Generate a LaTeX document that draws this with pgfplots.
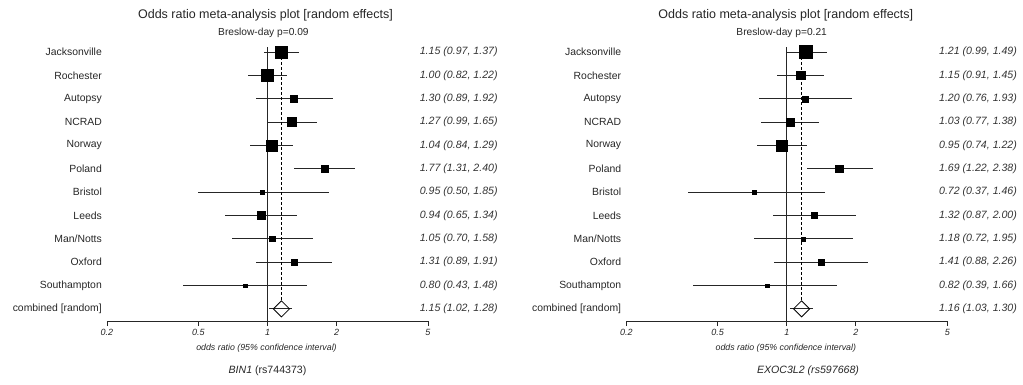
\documentclass[border=0pt]{standalone}
\usepackage{pgfplots}
\pgfplotsset{compat=1.18}
\usepackage{pgfplotstable}
\usepackage{fontspec}
\setmainfont{Liberation Sans}

% row = vertical position (px from top), or / lo / hi = odds ratio and 95% CI, ms = box half size
\pgfplotstableread{
row    or   lo   hi   ms
52.00  1.15 0.97 1.37 6.2
75.35  1.00 0.82 1.22 5.9
98.70  1.30 0.89 1.92 3.5
122.05 1.27 0.99 1.65 4.4
145.40 1.04 0.84 1.29 5.5
168.75 1.77 1.31 2.40 3.7
192.10 0.95 0.50 1.85 2.2
215.45 0.94 0.65 1.34 4.2
238.80 1.05 0.70 1.58 2.7
262.15 1.31 0.89 1.91 3.0
285.50 0.80 0.43 1.48 1.7
}\binone
\pgfplotstableread{
row    or   lo   hi
308.85 1.15 1.02 1.28
}\binonecomb

\pgfplotstableread{
row    or   lo   hi   ms
52.00  1.21 0.99 1.49 6.6
75.35  1.15 0.91 1.45 4.2
98.70  1.20 0.76 1.93 3.0
122.05 1.03 0.77 1.38 4.0
145.40 0.95 0.74 1.22 5.3
168.75 1.69 1.22 2.38 3.7
192.10 0.72 0.37 1.46 2.2
215.45 1.32 0.87 2.00 3.0
238.80 1.18 0.72 1.95 2.0
262.15 1.41 0.88 2.26 2.8
285.50 0.82 0.39 1.66 1.7
}\exoc
\pgfplotstableread{
row    or   lo   hi
308.85 1.16 1.03 1.30
}\exoccomb

\newcommand{\fpn}[1]{\pgfmathprintnumber[fixed, fixed zerofill, precision=2, assume math mode=true]{#1}}

\pgfplotsset{
  fpci/.style={draw=none, mark=none,
    error bars/.cd, x dir=both, x explicit, error mark=none,
    error bar style={line width=0.8pt, black!85, solid}},
  fpbox/.style={only marks, mark=square*, scatter,
    scatter/use mapped color={draw=black, fill=black},
    visualization depends on={\thisrow{ms}\as\msz},
    scatter/@pre marker code/.append style={/tikz/mark size=\msz pt}},
  fpvals/.style={only marks, mark=none,
    visualization depends on={\thisrow{or}\as\vor},
    visualization depends on={\thisrow{lo}\as\vlo},
    visualization depends on={\thisrow{hi}\as\vhi},
    nodes near coords={\fpn{\vor} (\fpn{\vlo}, \fpn{\vhi})},
    nodes near coords style={anchor=east, inner sep=0pt, text=black!80,
      font=\itshape\fontsize{10.6}{12}\selectfont}},
  fpaxis/.style={
    scale only axis, width=321pt, height=321pt,
    anchor=south west,
    xmin=0.2, xmax=5,
    ymin=0, ymax=321, y dir=reverse,
    clip=false,
    axis x line*=bottom, axis y line*=left,
    axis line style={-, line width=0.9pt, black!85},
    y axis line style={draw=none},
    xtick={0.2,0.5,1,2,5}, xticklabels={0.2,0.5,1,2,5},
    xtick style={line width=0.9pt, black!85},
    tick align=outside, major tick length=5pt,
    xticklabel style={font=\itshape\fontsize{9}{10}\selectfont, inner sep=1pt, yshift=-2pt, text=black!85},
    ytick={52.00,75.35,98.70,122.05,145.40,168.75,192.10,215.45,238.80,262.15,285.50,308.85},
    yticklabels={Jacksonville,Rochester,Autopsy,NCRAD,Norway,Poland,Bristol,Leeds,Man/Notts,Oxford,Southampton,combined [random]},
    ytick style={draw=none},
    yticklabel style={font=\fontsize{10.4}{12}\selectfont, anchor=east, inner sep=0pt, text=black!85}},
}

\begin{document}
\begin{tikzpicture}
\useasboundingbox (0,0) rectangle (1023pt,384pt);

% ---------------- left panel ----------------
\begin{axis}[xmode=log, fpaxis, at={(107pt,63pt)}]
  \addplot[fpci] table[x=or, y=row,
     x error plus expr=\thisrow{hi}-\thisrow{or},
     x error minus expr=\thisrow{or}-\thisrow{lo}] {\binone};
  \addplot[fpci] table[x=or, y=row,
     x error plus expr=\thisrow{hi}-\thisrow{or},
     x error minus expr=\thisrow{or}-\thisrow{lo}] {\binonecomb};
  \addplot[black!85, line width=1.2pt] coordinates {(1,47) (1,321)};
  \addplot[black, line width=0.7pt, dash pattern=on 3pt off 2pt] coordinates {(1.15,47) (1.15,301)};
  \addplot[fpbox] table[x=or, y=row] {\binone};
  \addplot[only marks, mark=square, mark size=5.7pt, mark options={rotate=45, line width=0.8pt, black}] table[x=or, y=row] {\binonecomb};
  \addplot[fpvals] table[x expr=10.07, y=row] {\binone};
  \addplot[fpvals] table[x expr=10.07, y=row] {\binonecomb};
  \node[font=\fontsize{12.5}{14}\selectfont, text=black!85] at (axis cs:0.98,15) {Odds ratio meta-analysis plot [random effects]};
  \node[font=\fontsize{10.2}{12}\selectfont, text=black!85] at (axis cs:0.96,33) {Breslow-day p=0.09};
  \node[font=\itshape\fontsize{8.8}{10}\selectfont, text=black!85] at (axis cs:0.99,348) {odds ratio (95\% confidence interval)};
  \node[font=\fontsize{10.6}{12}\selectfont, text=black!85] at (axis cs:1.0,371) {\textit{BIN1} (rs744373)};
\end{axis}

% ---------------- right panel ----------------
\begin{axis}[xmode=log, fpaxis, at={(626.3pt,63pt)}]
  \addplot[fpci] table[x=or, y=row,
     x error plus expr=\thisrow{hi}-\thisrow{or},
     x error minus expr=\thisrow{or}-\thisrow{lo}] {\exoc};
  \addplot[fpci] table[x=or, y=row,
     x error plus expr=\thisrow{hi}-\thisrow{or},
     x error minus expr=\thisrow{or}-\thisrow{lo}] {\exoccomb};
  \addplot[black!85, line width=1.2pt] coordinates {(1,47) (1,321)};
  \addplot[black, line width=0.7pt, dash pattern=on 3pt off 2pt] coordinates {(1.16,47) (1.16,301)};
  \addplot[fpbox] table[x=or, y=row] {\exoc};
  \addplot[only marks, mark=square, mark size=5.7pt, mark options={rotate=45, line width=0.8pt, black}] table[x=or, y=row] {\exoccomb};
  \addplot[fpvals] table[x expr=10.07, y=row] {\exoc};
  \addplot[fpvals] table[x expr=10.07, y=row] {\exoccomb};
  \node[font=\fontsize{12.5}{14}\selectfont, text=black!85] at (axis cs:0.99,15) {Odds ratio meta-analysis plot [random effects]};
  \node[font=\fontsize{10.2}{12}\selectfont, text=black!85] at (axis cs:0.95,33) {Breslow-day p=0.21};
  \node[font=\itshape\fontsize{8.8}{10}\selectfont, text=black!85] at (axis cs:0.99,348) {odds ratio (95\% confidence interval)};
  \node[font=\itshape\fontsize{10.6}{12}\selectfont, text=black!85] at (axis cs:1.237,371) {EXOC3L2 (rs597668)};
\end{axis}
\end{tikzpicture}
\end{document}
